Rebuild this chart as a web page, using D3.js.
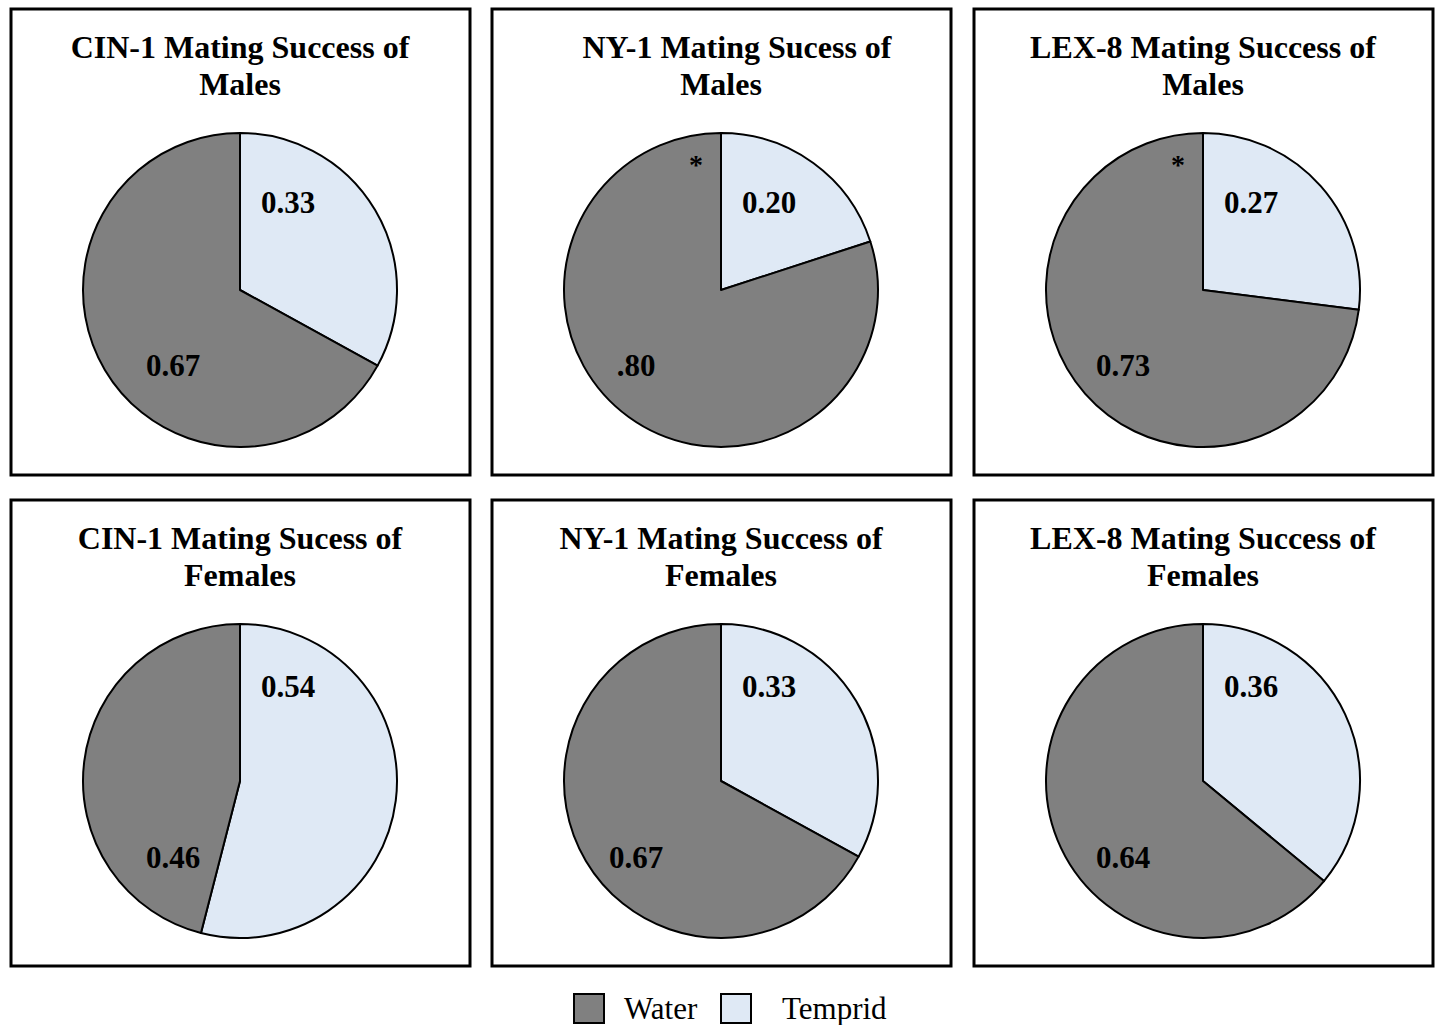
<!DOCTYPE html>
<html><head><meta charset="utf-8">
<script src="https://cdn.jsdelivr.net/npm/d3@7"></script>
<style>html,body{margin:0;padding:0;background:#fff;}</style>
</head><body>
<svg id="chart" width="1435" height="1025"></svg>
<script>
// ---- data ----
const titlesLine1 = ["CIN-1 Mating Success of", "NY-1 Mating Sucess of", "LEX-8 Mating Success of",
                     "CIN-1 Mating Sucess of", "NY-1 Mating Success of", "LEX-8 Mating Success of"];
const titlesLine2 = ["Males", "Males", "Males", "Females", "Females", "Females"];
const categories = ["Temprid", "Water"];
const tempridValues = [0.33, 0.20, 0.27, 0.54, 0.33, 0.36];
const waterValues   = [0.67, 0.80, 0.73, 0.46, 0.67, 0.64];
const tempridLabels = ["0.33", "0.20", "0.27", "0.54", "0.33", "0.36"];
const waterLabels   = ["0.67", ".80", "0.73", "0.46", "0.67", "0.64"];
const significant   = [false, true, true, false, false, false];
const legendOrder = ["Water", "Temprid"];

// ---- layout ----
const svg = d3.select("#chart");
const colors = d3.scaleOrdinal().domain(categories).range(["#dfe9f5", "#808080"]);
const font = "'Liberation Serif','Times New Roman',serif";
const boxX = [11, 492, 974], boxY = [9, 500], boxW = 459, boxH = 466;
const R = 157;
const pie = d3.pie().sort(null).value(d => d.v);
const arc = d3.arc().innerRadius(0).outerRadius(R);
// manual label offsets relative to pie centre
const waterDx = [-67, -85, -80];
const titleDx = [0, 16, 0, 0, 0, 0];

titlesLine1.forEach((t, i) => {
  const col = i % 3, row = Math.floor(i / 3);
  const x0 = boxX[col], y0 = boxY[row];
  const g = svg.append("g");
  g.append("rect").attr("x", x0).attr("y", y0).attr("width", boxW).attr("height", boxH)
    .attr("fill", "#fff").attr("stroke", "#000").attr("stroke-width", 3);
  const cx = x0 + 229, cy = y0 + 281;
  g.append("text").attr("x", cx + titleDx[i]).attr("y", y0 + 49).attr("text-anchor", "middle")
    .attr("font-family", font).attr("font-weight", "bold").attr("font-size", 32).text(t);
  g.append("text").attr("x", cx).attr("y", y0 + 86).attr("text-anchor", "middle")
    .attr("font-family", font).attr("font-weight", "bold").attr("font-size", 32).text(titlesLine2[i]);
  const data = [{k: "Temprid", v: tempridValues[i]}, {k: "Water", v: waterValues[i]}];
  const pg = g.append("g").attr("transform", `translate(${cx},${cy})`);
  pg.selectAll("path").data(pie(data)).join("path")
    .attr("d", arc).attr("fill", d => colors(d.data.k))
    .attr("stroke", "#000").attr("stroke-width", 2).attr("stroke-linejoin", "round");
  const ty = row === 0 ? -77 : -84;
  pg.append("text").attr("x", 48).attr("y", ty).attr("text-anchor", "middle")
    .attr("font-family", font).attr("font-weight", "bold").attr("font-size", 31).text(tempridLabels[i]);
  pg.append("text").attr("x", waterDx[col]).attr("y", row === 0 ? 86 : 87).attr("text-anchor", "middle")
    .attr("font-family", font).attr("font-weight", "bold").attr("font-size", 31).text(waterLabels[i]);
  if (significant[i]) {
    pg.append("text").attr("x", -25).attr("y", -116).attr("text-anchor", "middle")
      .attr("font-family", font).attr("font-weight", "bold").attr("font-size", 28).text("*");
  }
});

// legend
const legX = [574, 721], legTX = [624, 782];
legendOrder.forEach((k, i) => {
  svg.append("rect").attr("x", legX[i]).attr("y", 994).attr("width", 30).attr("height", 29)
    .attr("fill", colors(k)).attr("stroke", "#000").attr("stroke-width", 2);
  svg.append("text").attr("x", legTX[i]).attr("y", 1019).attr("font-family", font)
    .attr("font-size", 31).text(k);
});
</script>
</body></html>
